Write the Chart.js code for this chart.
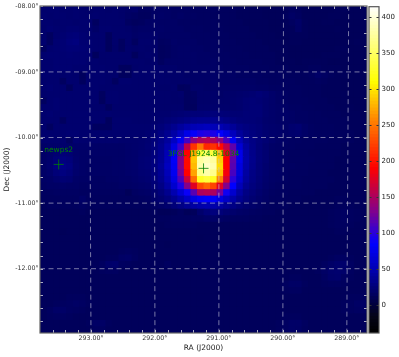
<!DOCTYPE html>
<html><head><meta charset="utf-8">
<script src="https://cdn.jsdelivr.net/npm/chart.js@4"></script>
<style>html,body{margin:0;padding:0;background:#fff}canvas{position:absolute;left:0;top:0;filter:blur(0.35px)}</style>
</head><body>
<canvas id="main" width="399" height="357"></canvas>
<canvas id="bar" width="399" height="357"></canvas>
<script>
// Image rows, top (Dec -8) to bottom (Dec -13), left (high RA) to right
const row00=[20,21,21,20,20,21,20,19,20,20,19,20,19,18,19,15,15,17,17,17,16,16,16,15,15,15,15,14,14,14,13,13,13,13,12,12,12,13,15,14,12,12,12,12,12,13,13,12,12,12];
const row01=[21,20,21,21,20,21,20,20,21,20,20,20,19,17,16,14,14,17,18,17,16,17,16,16,15,15,14,14,14,14,13,13,13,13,12,12,12,14,17,15,12,12,12,12,13,13,12,12,12,12];
const row02=[21,21,20,21,21,20,21,21,15,20,20,20,20,16,14,15,17,18,17,17,17,16,16,15,15,15,15,14,14,14,14,13,13,13,13,12,12,13,15,18,13,12,12,13,13,12,12,12,12,12];
const row03=[20,22,21,21,22,22,21,21,18,21,21,20,20,19,17,18,18,18,18,17,17,17,16,16,16,15,15,15,14,14,14,14,13,13,13,12,12,13,13,17,13,12,12,12,12,13,12,12,12,12];
const row04=[20,15,21,22,24,25,22,21,21,21,14,20,20,20,18,19,19,19,17,17,17,17,17,16,16,16,15,15,15,14,14,14,14,13,13,13,12,12,13,13,13,12,12,12,12,12,12,12,12,12];
const row05=[21,15,22,23,26,27,22,22,21,21,14,20,15,20,15,20,20,19,15,16,18,17,17,17,16,16,16,15,15,15,14,14,14,14,13,13,13,12,13,13,12,12,12,12,12,12,12,12,13,12];
const row06=[15,21,22,23,24,24,23,22,21,21,14,19,15,20,19,20,19,19,14,15,17,18,18,17,17,16,16,16,15,15,15,14,14,14,14,13,13,13,12,12,12,12,12,12,12,13,13,12,12,12];
const row07=[21,22,22,22,23,22,22,22,14,20,20,20,20,20,14,19,20,19,14,15,17,18,18,18,17,17,16,16,16,15,15,15,14,14,14,14,13,13,12,12,12,12,12,13,13,13,12,12,12,12];
const row08=[21,21,22,22,22,22,22,21,21,20,20,20,20,20,20,20,19,20,15,18,18,18,18,18,17,17,17,16,16,16,15,15,15,15,14,14,13,13,13,12,13,13,13,13,12,12,12,12,12,12];
const row09=[21,21,22,22,22,21,21,21,21,21,20,20,14,14,19,20,20,20,19,19,19,18,18,18,18,18,17,17,16,16,16,16,15,15,15,14,14,14,13,13,13,14,14,13,13,13,12,12,12,12];
const row10=[21,21,21,20,21,20,14,21,21,21,20,20,14,14,20,20,20,20,20,19,19,19,18,18,18,18,18,17,17,17,16,16,16,16,15,15,15,14,14,14,14,15,18,16,14,13,13,12,12,12];
const row11=[20,21,21,15,21,21,14,21,21,21,20,15,21,21,20,20,20,20,20,20,19,19,19,18,18,18,18,17,17,17,17,17,17,16,16,15,15,15,15,14,14,14,15,14,13,13,12,12,12,12];
const row12=[21,22,21,21,14,21,21,21,21,20,20,20,20,20,20,20,20,20,19,19,20,14,15,19,19,18,18,18,18,18,18,18,18,17,17,16,16,15,15,15,14,14,14,13,13,13,12,12,12,12];
const row13=[20,21,21,21,21,21,21,21,21,15,21,21,20,20,20,20,20,20,20,20,19,20,15,16,19,19,19,18,19,19,20,21,22,24,22,19,17,16,15,15,14,14,14,13,13,13,13,12,12,12];
const row14=[15,21,22,21,21,21,21,21,21,14,21,21,20,20,20,20,20,20,20,20,19,19,15,15,19,19,19,19,19,20,21,23,24,23,21,19,17,16,15,15,15,14,14,14,13,13,13,12,12,12];
const row15=[21,21,22,21,21,21,21,21,20,20,15,20,20,20,20,20,20,20,20,20,20,20,15,14,20,20,20,20,20,20,21,23,24,24,21,19,18,17,16,16,15,15,14,14,14,13,13,13,12,12];
const row16=[21,22,21,21,21,21,21,21,21,21,21,20,20,20,20,20,20,21,21,21,22,23,24,25,25,26,26,25,24,23,23,24,24,24,21,19,18,18,17,16,16,15,15,14,14,14,13,13,13,12];
const row17=[21,21,21,15,21,21,21,21,21,21,14,21,21,21,20,20,20,21,22,24,26,28,30,33,34,34,34,33,30,27,25,24,24,23,20,19,18,18,17,16,16,15,15,15,14,14,14,13,13,13];
const row18=[21,15,21,21,21,21,21,21,15,15,15,21,21,21,21,21,21,23,25,29,34,40,46,50,52,54,52,49,44,38,31,28,26,24,21,20,19,18,21,22,18,16,15,15,15,14,14,13,13,13];
const row19=[21,21,21,21,22,22,21,21,21,21,21,21,21,21,21,21,22,24,29,35,44,57,74,87,94,97,94,86,72,54,40,32,28,25,22,20,19,18,20,21,18,16,15,15,15,14,14,14,13,13];
const row20=[21,21,21,21,15,22,21,21,21,21,21,21,20,20,20,21,22,26,32,40,57,80,107,135,150,155,150,135,110,80,52,37,30,26,23,20,18,17,16,16,15,15,15,15,14,14,14,14,13,13];
const row21=[18,19,19,20,19,19,19,19,18,18,18,18,18,19,20,21,23,27,34,46,70,105,160,215,250,210,215,195,160,118,65,42,31,25,21,18,17,16,16,15,15,15,14,14,14,14,13,13,13,13];
const row22=[18,19,22,24,23,19,18,18,18,18,18,18,18,19,20,22,23,27,35,50,78,125,190,270,335,350,335,280,180,125,75,45,32,26,22,18,17,16,15,15,15,14,14,14,14,14,13,13,13,13];
const row23=[18,20,25,28,26,20,18,18,17,17,17,18,18,19,20,23,24,28,36,52,82,130,195,285,375,385,375,290,190,118,75,46,33,26,22,18,17,16,15,15,15,15,14,14,14,13,13,13,13,13];
const row24=[18,21,27,31,28,21,18,17,17,17,17,18,18,19,20,23,24,28,38,55,80,130,195,280,380,392,382,295,190,115,70,45,32,25,21,18,17,16,16,15,15,14,14,14,14,13,13,13,13,13];
const row25=[18,20,25,28,25,20,18,17,17,17,17,18,18,19,20,22,23,27,36,52,78,125,190,270,365,380,368,285,185,110,68,42,30,25,21,18,17,16,15,15,15,14,14,14,13,13,13,13,13,13];
const row26=[17,18,21,23,22,18,17,17,16,16,17,17,18,18,19,21,22,26,34,48,72,112,165,245,325,335,325,255,170,100,62,40,29,24,20,18,17,16,15,15,14,14,14,14,14,13,13,13,13,13];
const row27=[16,17,17,18,17,17,16,16,16,16,16,16,17,17,18,19,20,24,30,42,62,95,130,175,225,240,225,175,130,85,52,35,27,23,19,17,16,15,15,15,14,14,14,14,13,13,13,13,13,13];
const row28=[15,15,16,16,16,16,15,15,15,15,15,15,15,12,16,17,18,21,26,34,48,65,88,115,150,155,150,125,90,62,42,30,25,21,18,16,15,15,14,14,14,14,13,13,13,13,13,13,13,13];
const row29=[14,14,14,15,15,15,18,15,14,14,14,14,14,14,14,15,16,19,22,27,35,45,58,72,82,85,82,70,58,45,34,27,22,19,17,15,15,14,14,14,13,13,13,13,13,14,14,13,13,13];
const row30=[13,14,14,14,14,14,16,14,14,14,14,14,14,14,14,14,14,16,18,20,25,30,36,42,46,48,46,42,36,30,25,21,19,17,15,14,14,14,13,13,13,13,13,13,13,14,14,14,13,13];
const row31=[13,13,13,13,13,13,14,13,13,13,13,13,13,13,13,13,13,14,12,12,13,15,12,13,20,25,27,25,22,20,18,17,16,15,14,14,13,13,13,13,13,13,13,13,14,15,16,15,14,13];
const row32=[13,13,13,13,13,13,13,13,13,13,13,13,13,13,13,13,13,13,14,14,15,15,15,16,16,18,18,17,16,15,15,15,14,14,13,13,13,13,13,13,13,13,13,13,14,15,16,15,14,13];
const row33=[13,13,13,13,13,13,13,13,13,13,13,13,13,13,13,13,13,13,13,14,14,14,14,14,13,13,13,13,13,13,13,13,13,13,13,13,13,13,13,13,13,13,13,13,14,15,15,14,13,13];
const row34=[13,13,13,12,13,13,13,13,13,13,13,13,13,13,13,13,13,13,13,13,13,13,13,13,13,13,13,13,13,13,13,13,13,13,13,13,13,13,13,13,13,13,13,13,13,14,14,13,13,13];
const row35=[13,13,13,13,13,13,13,13,13,13,13,13,13,13,13,13,13,13,13,13,13,13,13,13,12,13,13,13,13,13,13,13,13,13,13,13,13,13,13,13,13,13,13,13,13,13,13,13,13,13];
const row36=[13,13,13,13,13,13,13,13,13,13,13,13,13,13,13,13,13,13,13,12,13,13,13,13,13,13,13,13,13,13,13,13,13,13,13,13,13,13,13,13,13,13,13,13,13,13,13,13,13,13];
const row37=[13,13,13,13,13,13,13,13,13,13,13,13,14,15,14,13,13,13,13,13,13,13,13,13,13,13,13,13,13,13,13,13,13,13,13,13,13,13,13,13,13,13,13,13,13,13,13,13,13,13];
const row38=[13,13,13,13,13,13,13,13,13,13,14,14,17,18,15,13,13,13,13,13,13,13,13,13,13,13,13,13,13,13,13,13,13,13,13,13,13,13,13,13,13,13,13,13,14,16,16,14,13,13];
const row39=[13,13,13,13,13,13,13,13,13,15,19,20,15,14,13,13,13,13,13,15,13,13,13,13,13,13,13,13,13,13,13,13,13,13,13,13,13,13,13,13,13,13,13,15,18,20,20,16,13,13];
const row40=[13,13,13,13,13,13,13,13,13,14,15,15,13,13,13,13,13,13,13,13,13,13,13,13,13,13,13,13,13,13,13,13,13,13,13,13,13,13,13,13,13,13,14,17,20,21,19,15,13,13];
const row41=[13,13,13,13,13,13,13,13,13,13,13,13,13,13,13,13,13,13,13,13,13,13,13,13,13,13,13,13,13,13,13,13,13,13,13,13,13,13,14,14,13,13,13,16,19,20,16,14,13,13];
const row42=[13,13,13,13,13,13,13,13,13,13,13,13,13,13,13,13,13,13,13,13,13,13,13,13,13,13,13,13,13,13,13,13,13,13,13,13,13,15,17,17,14,13,13,14,15,15,14,13,13,13];
const row43=[13,13,13,13,13,13,13,13,13,13,13,13,13,13,13,13,13,13,13,13,13,13,13,13,13,13,13,13,13,13,13,13,13,13,13,13,13,14,15,15,13,13,13,13,13,13,13,13,13,13];
const row44=[13,13,13,13,14,14,14,13,13,13,13,13,13,13,13,13,13,13,13,13,13,13,13,13,13,13,13,13,13,13,13,13,13,13,13,13,13,13,13,13,13,13,13,13,13,13,13,14,14,14];
const row45=[13,13,14,15,16,17,16,14,13,13,13,13,13,13,13,13,13,13,13,13,13,13,13,13,13,13,13,13,13,13,13,13,13,13,13,13,13,13,13,13,13,13,13,13,13,13,14,15,17,17];
const row46=[13,15,18,18,16,15,14,13,13,13,13,13,13,13,13,13,13,13,13,13,13,13,13,13,13,13,13,13,13,13,13,13,13,13,13,13,13,13,13,13,13,13,13,13,13,13,14,15,16,16];
const row47=[13,14,15,15,14,13,13,13,13,13,13,13,13,13,13,13,13,13,13,13,13,13,13,13,13,13,13,13,13,13,13,13,13,13,13,13,13,14,14,14,13,13,13,13,13,13,13,13,13,13];
const row48=[13,13,13,13,13,13,13,14,17,17,14,13,13,13,13,13,13,13,13,13,13,13,13,13,13,13,13,13,13,13,13,13,13,13,13,13,14,16,18,18,15,13,13,13,13,13,13,13,13,13];
const row49=[13,13,13,13,13,13,13,13,15,15,13,13,13,13,13,13,13,13,13,13,13,13,13,13,13,13,13,13,13,13,13,13,13,13,13,13,14,16,18,17,14,13,13,13,13,13,13,13,13,13];
const imageRows=[row00,row01,row02,row03,row04,row05,row06,row07,row08,row09,row10,row11,row12,row13,row14,row15,row16,row17,row18,row19,row20,row21,row22,row23,row24,row25,row26,row27,row28,row29,row30,row31,row32,row33,row34,row35,row36,row37,row38,row39,row40,row41,row42,row43,row44,row45,row46,row47,row48,row49];

const raTicks=[293.6,293.4,293.2,293,292.8,292.6,292.4,292.2,292,291.8,291.6,291.4,291.2,291,290.8,290.6,290.4,290.2,290,289.8,289.6,289.4,289.2,289,288.8];
const decTicks=[-8,-8.2,-8.4,-8.6,-8.8,-9,-9.2,-9.4,-9.6,-9.8,-10,-10.2,-10.4,-10.6,-10.8,-11,-11.2,-11.4,-11.6,-11.8,-12,-12.2,-12.4,-12.6,-12.8];
const gridRATop=[293.024,292.01,291.0,289.99,288.97];
const gridRABottom=[293.0,292.0,291.0,290.0,289.0];
const gridDec=[-9,-10,-11,-12];
const sourceNames=['newps2','3FGL J1924.8-1034'];
const sourceRA=[293.505,291.24];
const sourceDec=[-10.41,-10.47];
const barTicks=[0,50,100,150,200,250,300,350,400];
const barEdges=[];
for(let v=-38.5;v<415;v+=4.6)barEdges.push(v);

const cmapValues=[-38.5,-15,0,50,85,130,190,255,310,415];
const cmapColors=[[0,0,0],[5,5,25],[0,0,60],[0,0,180],[0,0,255],[130,0,140],[255,0,0],[255,128,0],[255,255,0],[255,255,255]];
function cmap(v){
  let i=0;
  while(i<cmapValues.length-2&&v>cmapValues[i+1])i++;
  const t=Math.max(0,Math.min(1,(v-cmapValues[i])/(cmapValues[i+1]-cmapValues[i])));
  const a=cmapColors[i],b=cmapColors[i+1];
  return `rgb(${a.map((c,k)=>Math.round(c+(b[k]-c)*t)).join(',')})`;
}

const FONT='"DejaVu Sans"';
const X0=40,X1=367,Y0=6,Y1=333;
const cellOffset=0.595; // cells overlap by over a pixel, so anti-aliased edges leave no seams
const cells=[],cellColors=[];
imageRows.forEach((r,j)=>r.forEach((v,i)=>{cells.push({x:i+cellOffset,y:j+cellOffset});cellColors.push(cmap(v));}));

const graticule=[];
gridRATop.forEach((ra,i)=>graticule.push([{x:ra,y:-7.99},{x:gridRABottom[i],y:-12.98}]));
gridDec.forEach(d=>graticule.push([{x:293.797,y:d},{x:288.684,y:d}]));

const frame={id:'frame',afterDatasetsDraw(c){
  const {ctx,chartArea:a,scales:{x,y}}=c;
  ctx.save();
  ctx.strokeStyle='rgba(215,215,225,0.8)';ctx.lineWidth=1;
  ctx.beginPath();
  raTicks.forEach(v=>{const p=Math.round(x.getPixelForValue(v))+.5;ctx.moveTo(p,a.top);ctx.lineTo(p,a.top+3);ctx.moveTo(p,a.bottom);ctx.lineTo(p,a.bottom-3);});
  decTicks.forEach(v=>{const p=Math.round(y.getPixelForValue(v))+.5;ctx.moveTo(a.left,p);ctx.lineTo(a.left+3,p);ctx.moveTo(a.right,p);ctx.lineTo(a.right-3,p);});
  ctx.stroke();
  ctx.strokeStyle='#666';ctx.lineWidth=1.2;
  ctx.strokeRect(a.left,a.top,a.right-a.left,a.bottom-a.top);
  ctx.fillStyle='#008000';ctx.font='7.5px '+FONT;ctx.textAlign='center';ctx.textBaseline='middle';
  sourceNames.forEach((n,i)=>ctx.fillText(n,x.getPixelForValue(sourceRA[i]),y.getPixelForValue(sourceDec[i])-14));
  ctx.restore();
}};

new Chart(document.getElementById('main'),{
  type:'scatter',
  data:{datasets:[
    {label:'sources',data:sourceRA.map((r,i)=>({x:r,y:sourceDec[i]})),xAxisID:'x',yAxisID:'y',pointStyle:'cross',pointRadius:5,pointBorderColor:'#008000',pointBorderWidth:0.8,backgroundColor:'#008000',order:0},
    ...graticule.map(g=>({label:'grid',data:g,xAxisID:'x',yAxisID:'y',showLine:true,pointRadius:0,borderColor:'rgba(195,195,215,0.62)',borderWidth:1,borderDash:[5,3.5],order:1})),
    {label:'image',data:cells,xAxisID:'xCell',yAxisID:'yCell',pointStyle:'rect',pointRadius:5.5,pointBorderWidth:0,pointBackgroundColor:cellColors,order:2}
  ]},
  options:{
    responsive:false,animation:false,events:[],
    layout:{padding:{left:0,top:Y0,right:399-X1,bottom:0}},
    plugins:{legend:{display:false},tooltip:{enabled:false}},
    scales:{
      xCell:{type:'linear',display:false,min:0,max:50},
      yCell:{type:'linear',display:false,min:0,max:50,reverse:true},
      x:{type:'linear',position:'bottom',reverse:true,min:288.684,max:293.797,
        afterBuildTicks:s=>{s.ticks=raTicks.map(v=>({value:v}));},
        afterFit:s=>{s.height=357-Y1;},
        grid:{display:false,drawTicks:false},border:{display:false},
        ticks:{autoSkip:false,maxRotation:0,padding:2,color:'#333',font:{family:FONT,size:6.3},
          callback:v=>Number.isInteger(Math.round(v*1000)/1000)?v.toFixed(2)+'°':''},
        title:{display:true,text:'RA (J2000)',color:'#222',font:{family:FONT,size:7.5},padding:{top:2,bottom:4.5}}},
      y:{type:'linear',position:'left',min:-12.98,max:-7.995,
        afterBuildTicks:s=>{s.ticks=decTicks.map(v=>({value:v}));},
        afterFit:s=>{s.width=X0;},
        grid:{display:false,drawTicks:false},border:{display:false},
        ticks:{autoSkip:false,padding:1.3,color:'#333',font:{family:FONT,size:6.3},
          callback:v=>{if(!Number.isInteger(Math.round(v*1000)/1000))return '';const a=Math.abs(v).toFixed(2);return '-'+a.padStart(5,'0')+'°';}},
        title:{display:true,text:'Dec (J2000)',color:'#222',font:{family:FONT,size:7.5},padding:{top:3,bottom:0}}}
    }
  },
  plugins:[frame]
});

const barFrame={id:'barFrame',afterDatasetsDraw(c){
  const {ctx,chartArea:a,scales:{y}}=c;
  ctx.save();
  ctx.strokeStyle='#333';ctx.lineWidth=1;
  ctx.beginPath();
  barTicks.forEach(v=>{const p=Math.round(y.getPixelForValue(v))+.5;ctx.moveTo(a.left,p);ctx.lineTo(a.left+2.5,p);ctx.moveTo(a.right,p);ctx.lineTo(a.right-2.5,p);});
  ctx.stroke();
  ctx.strokeStyle='#555';ctx.lineWidth=1.2;
  ctx.strokeRect(a.left,a.top,a.right-a.left,a.bottom-a.top);
  ctx.restore();
}};

new Chart(document.getElementById('bar'),{
  type:'bar',
  data:{labels:['level'],datasets:barEdges.map(v=>({data:[[v,v+4.8]],backgroundColor:cmap(v+2.3),borderWidth:0,barPercentage:1,categoryPercentage:1,grouped:false}))},
  options:{
    responsive:false,animation:false,events:[],
    layout:{padding:{left:369,top:Y0,right:0,bottom:357-Y1}},
    plugins:{legend:{display:false},tooltip:{enabled:false}},
    scales:{
      x:{display:false,stacked:true},
      y:{type:'linear',position:'right',min:-38.5,max:415,
        afterBuildTicks:s=>{s.ticks=barTicks.map(v=>({value:v}));},
        afterFit:s=>{s.width=20;},
        grid:{display:false,drawTicks:false},border:{display:false},
        ticks:{autoSkip:false,padding:2.5,color:'#222',font:{family:FONT,size:7}}}
    }
  },
  plugins:[barFrame]
});
</script>
</body></html>
